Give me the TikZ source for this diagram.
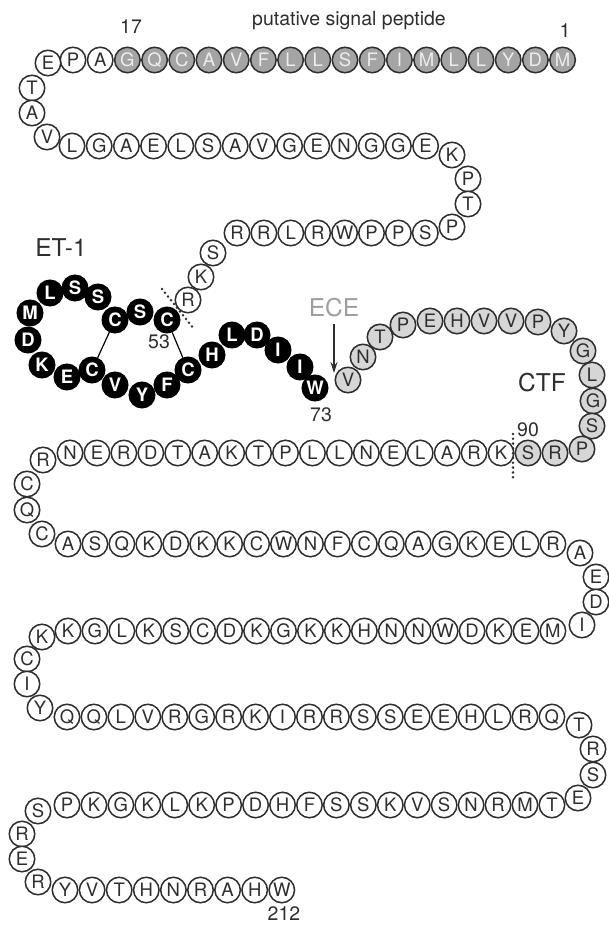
\documentclass[tikz,border=0pt]{standalone}
\usepackage{fontspec}
\setmainfont{TeX Gyre Heros}
\usetikzlibrary{arrows.meta}
\definecolor{ink}{HTML}{2E2E2E}
\definecolor{sigfill}{HTML}{A4A4A4}
\definecolor{sigtext}{HTML}{EDEDED}
\definecolor{ctffill}{HTML}{D6D6D6}
\definecolor{ecetext}{HTML}{9E9E9E}
\tikzset{
  res/.style={circle, draw=ink, line width=1.5pt, fill=white, minimum size=25.5pt,
    inner sep=0pt, text=ink, font=\fontsize{18.5}{18.5}\selectfont},
  sig/.style={res, fill=sigfill, text=sigtext},
  ctf/.style={res, fill=ctffill},
  et/.style={res, draw=black, fill=black, text=white,
    font=\fontsize{18.5}{18.5}\selectfont\bfseries},
  lbl/.style={text=ink, inner sep=0pt, font=\fontsize{19.5}{19.5}\selectfont},
  biglbl/.style={lbl, font=\fontsize{24.5}{24.5}\selectfont},
  ss/.style={line width=1.2pt, black},
  cut/.style={line width=2.8pt, ink, line cap=round, dash pattern=on 0pt off 4.8pt},
}
% a straight run of residues: prefix, first x, y, spacing, style, letters
\newcommand\seqrow[6]{%
  \foreach \l [count=\i from 0] in {#6}
    \node[#5] (#1\i) at ({#2+\i*#4},#3) {\l};}
\begin{document}
\begin{tikzpicture}[x=1pt,y=-1pt]
\useasboundingbox (0,0) rectangle (608,925);

% signal peptide row (residues 1-17 shaded)
\seqrow{a}{73}{60}{27.2}{res}{P,A}
\seqrow{s}{127.4}{60}{27.2}{sig}{G,Q,C,A,V,F,L,L,S,F,I,M,L,L,Y,D,M}
\node[res] (k1) at (48,63) {E};
\node[res] (k2) at (32,88) {T};
\node[res] (k3) at (32,113) {A};
\node[res] (k4) at (47,137) {V};

% second row and right turn
\seqrow{b}{72}{146}{27.2}{res}{L,G,A,E,L,S,A,V,G,E,N,G,G,E}
\node[res] (k5) at (452,155) {K};
\node[res] (k6) at (468,179) {P};
\node[res] (k7) at (468,204) {T};
\node[res] (k8) at (452,227) {P};
\seqrow{c}{237}{233}{26.9}{res}{R,R,L,R,W,P,P,S}
\node[res] (k9) at (213,253) {S};
\node[res] (k10) at (201,277) {K};
\node[res] (k11) at (188,300) {R};

% ET-1 (residues 53-73)
\node[et] (e1) at (167,320) {C};
\node[et] (e2) at (140,312) {S};
\node[et] (e3) at (115,320) {C};
\node[et] (e4) at (98,297) {S};
\node[et] (e5) at (75,288) {S};
\node[et] (e6) at (50,293) {L};
\node[et] (e7) at (30,313) {M};
\node[et] (e8) at (28,340) {D};
\node[et] (e9) at (42,365) {K};
\node[et] (e10) at (67,377) {E};
\node[et] (e11) at (92,370) {C};
\node[et] (e12) at (115,385) {V};
\node[et] (e13) at (142,395) {Y};
\node[et] (e14) at (167,385) {F};
\node[et] (e15) at (188,370) {C};
\node[et] (e16) at (212,355) {H};
\node[et] (e17) at (232,335) {L};
\node[et] (e18) at (257,335) {D};
\node[et] (e19) at (278,350) {I};
\node[et] (e20) at (300,367) {I};
\node[et] (e21) at (315,388) {W};
\draw[ss] (e1) -- (e15);
\draw[ss] (e3) -- (e11);

% C-terminal fragment (residues 74-90)
\node[ctf] (t1) at (348,380) {V};
\node[ctf] (t2) at (363,357) {N};
\node[ctf] (t3) at (380,337) {T};
\node[ctf] (t4) at (403,325) {P};
\node[ctf] (t5) at (430,321) {E};
\node[ctf] (t6) at (457,321) {H};
\node[ctf] (t7) at (484,321) {V};
\node[ctf] (t8) at (511,321) {V};
\node[ctf] (t9) at (538,322) {P};
\node[ctf] (t10) at (564,331) {Y};
\node[ctf] (t11) at (583,351) {G};
\node[ctf] (t12) at (592,375) {L};
\node[ctf] (t13) at (593,401) {G};
\node[ctf] (t14) at (592,426) {S};
\node[ctf] (t15) at (582,449) {P};
\node[ctf] (t16) at (555,453) {R};
\node[ctf] (t17) at (528,453) {S};

% remaining chain
\seqrow{d}{70}{453}{26.94}{res}{N,E,R,D,T,A,K,T,P,L,L,N,E,L,A,R,K}
\node[res] (k12) at (43,460) {R};
\node[res] (k13) at (27,484) {C};
\node[res] (k14) at (27,510) {Q};
\node[res] (k15) at (42,534) {C};
\seqrow{f}{68}{544}{26.94}{res}{A,S,Q,K,D,K,K,C,W,N,F,C,Q,A,G,K,E,L,R}
\node[res] (k16) at (580,553) {A};
\node[res] (k17) at (596,577) {E};
\node[res] (k18) at (596,602) {D};
\node[res] (k19) at (582,625) {I};
\seqrow{g}{68}{631}{26.94}{res}{K,G,L,K,S,C,D,K,G,K,K,H,N,N,W,D,K,E,M}
\node[res] (k20) at (42,637) {K};
\node[res] (k21) at (27,659) {C};
\node[res] (k22) at (27,684) {I};
\node[res] (k23) at (40,708) {Y};
\seqrow{h}{67}{717}{26.94}{res}{Q,Q,L,V,R,G,R,K,I,R,R,S,S,E,E,H,L,R,Q}
\node[res] (k24) at (579,725) {T};
\node[res] (k25) at (593,749) {R};
\node[res] (k26) at (593,775) {S};
\node[res] (k27) at (578,798) {E};
\seqrow{m}{67}{805}{26.94}{res}{P,K,G,K,L,K,P,D,H,F,S,S,K,V,S,N,R,M,T}
\node[res] (k28) at (38,811) {S};
\node[res] (k29) at (22,834) {R};
\node[res] (k30) at (22,859) {E};
\node[res] (k31) at (38,882) {R};
\seqrow{n}{65}{890}{27.1}{res}{Y,V,T,H,N,R,A,H,W}

% cleavage sites
\coordinate (cutA1) at (162,289);
\coordinate (cutA2) at (194,329);
\draw[cut] (cutA1) -- (cutA2);
\coordinate (cutB1) at (513,434);
\coordinate (cutB2) at (513,481);
\draw[cut] (cutB1) -- (cutB2);

% labels
\node[lbl] (lsig) at (349,21) {putative signal peptide};
\node[lbl] (l17) at (131,27) {17};
\node[lbl] (l1) at (565,31) {1};
\node[biglbl] (let) at (61,248) {ET-1};
\node[lbl] (l53) at (159,342) {53};
\node[lbl] (l73) at (321,415) {73};
\node[biglbl] (lctf) at (542,383) {CTF};
\node[lbl] (l90) at (528,430) {90};
\node[lbl] (l212) at (284,914) {212};
\node[biglbl, text=ecetext] (ece) at (334,308) {ECE};
\coordinate (ecetip) at (334,373);
\draw[line width=1.6pt, ink, -{Stealth[length=11pt,width=7pt]}] (ece.south) ++(0,6) -- (ecetip);
\end{tikzpicture}
\end{document}
